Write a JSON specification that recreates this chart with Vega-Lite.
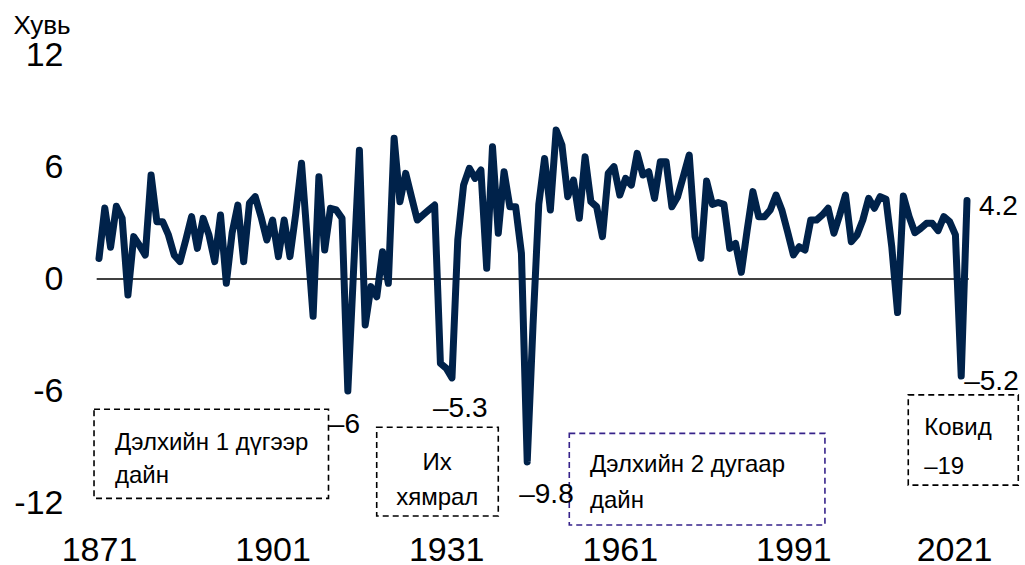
{
  "$schema": "https://vega.github.io/schema/vega-lite/v6.json",
  "width": 868,
  "height": 448,
  "autosize": {"type": "none"},
  "padding": {"left": 99, "top": 55, "right": 58, "bottom": 62},
  "background": "white",
  "config": {"view": {"stroke": null}},
  "datasets": {
    "gdp": [
      {"year": 1871, "value": 1.1}, {"year": 1872, "value": 3.8}, {"year": 1873, "value": 1.7}, {"year": 1874, "value": 3.9},
      {"year": 1875, "value": 3.25}, {"year": 1876, "value": -0.86}, {"year": 1877, "value": 2.27}, {"year": 1878, "value": 1.8},
      {"year": 1879, "value": 1.28}, {"year": 1880, "value": 5.57}, {"year": 1881, "value": 3.07}, {"year": 1882, "value": 3.07},
      {"year": 1883, "value": 2.36}, {"year": 1884, "value": 1.28}, {"year": 1885, "value": 0.93}, {"year": 1886, "value": 2.1},
      {"year": 1887, "value": 3.34}, {"year": 1888, "value": 1.64}, {"year": 1889, "value": 3.25}, {"year": 1890, "value": 2.36},
      {"year": 1891, "value": 0.93}, {"year": 1892, "value": 3.43}, {"year": 1893, "value": -0.23}, {"year": 1894, "value": 2.46},
      {"year": 1895, "value": 3.96}, {"year": 1896, "value": 0.93}, {"year": 1897, "value": 4.07}, {"year": 1898, "value": 4.41},
      {"year": 1899, "value": 3.34}, {"year": 1900, "value": 2.09}, {"year": 1901, "value": 3.16}, {"year": 1902, "value": 1.2},
      {"year": 1903, "value": 3.16}, {"year": 1904, "value": 1.2}, {"year": 1905, "value": 3.5}, {"year": 1906, "value": 6.2},
      {"year": 1907, "value": 2.1}, {"year": 1908, "value": -2.0}, {"year": 1909, "value": 5.48}, {"year": 1910, "value": 1.55},
      {"year": 1911, "value": 3.79}, {"year": 1912, "value": 3.7}, {"year": 1913, "value": 3.25}, {"year": 1914, "value": -6.0},
      {"year": 1915, "value": 0.5}, {"year": 1916, "value": 6.9}, {"year": 1917, "value": -2.46}, {"year": 1918, "value": -0.41},
      {"year": 1919, "value": -0.95}, {"year": 1920, "value": 1.46}, {"year": 1921, "value": -0.23}, {"year": 1922, "value": 7.54},
      {"year": 1923, "value": 4.14}, {"year": 1924, "value": 5.66}, {"year": 1925, "value": 4.4}, {"year": 1926, "value": 3.16},
      {"year": 1927, "value": 3.43}, {"year": 1928, "value": 3.7}, {"year": 1929, "value": 3.96}, {"year": 1930, "value": -4.52},
      {"year": 1931, "value": -4.78}, {"year": 1932, "value": -5.3}, {"year": 1933, "value": 2.09}, {"year": 1934, "value": 5.03},
      {"year": 1935, "value": 5.93}, {"year": 1936, "value": 5.39}, {"year": 1937, "value": 5.84}, {"year": 1938, "value": 0.57},
      {"year": 1939, "value": 7.09}, {"year": 1940, "value": 2.45}, {"year": 1941, "value": 5.75}, {"year": 1942, "value": 3.87},
      {"year": 1943, "value": 3.87}, {"year": 1944, "value": 1.38}, {"year": 1945, "value": -9.8}, {"year": 1946, "value": -2.5},
      {"year": 1947, "value": 4.0}, {"year": 1948, "value": 6.46}, {"year": 1949, "value": 3.7}, {"year": 1950, "value": 7.98},
      {"year": 1951, "value": 7.18}, {"year": 1952, "value": 4.41}, {"year": 1953, "value": 5.3}, {"year": 1954, "value": 3.25},
      {"year": 1955, "value": 6.55}, {"year": 1956, "value": 4.14}, {"year": 1957, "value": 3.87}, {"year": 1958, "value": 2.27},
      {"year": 1959, "value": 5.66}, {"year": 1960, "value": 6.02}, {"year": 1961, "value": 4.5}, {"year": 1962, "value": 5.39},
      {"year": 1963, "value": 5.03}, {"year": 1964, "value": 6.73}, {"year": 1965, "value": 5.57}, {"year": 1966, "value": 5.75},
      {"year": 1967, "value": 4.32}, {"year": 1968, "value": 6.28}, {"year": 1969, "value": 6.28}, {"year": 1970, "value": 3.87},
      {"year": 1971, "value": 4.41}, {"year": 1972, "value": 5.52}, {"year": 1973, "value": 6.64}, {"year": 1974, "value": 2.27},
      {"year": 1975, "value": 1.11}, {"year": 1976, "value": 5.25}, {"year": 1977, "value": 4.0}, {"year": 1978, "value": 4.1},
      {"year": 1979, "value": 4.0}, {"year": 1980, "value": 1.64}, {"year": 1981, "value": 1.91}, {"year": 1982, "value": 0.36},
      {"year": 1983, "value": 2.6}, {"year": 1984, "value": 4.68}, {"year": 1985, "value": 3.34}, {"year": 1986, "value": 3.34},
      {"year": 1987, "value": 3.7}, {"year": 1988, "value": 4.5}, {"year": 1989, "value": 3.7}, {"year": 1990, "value": 2.53},
      {"year": 1991, "value": 1.29}, {"year": 1992, "value": 1.73}, {"year": 1993, "value": 1.55}, {"year": 1994, "value": 3.16},
      {"year": 1995, "value": 3.16}, {"year": 1996, "value": 3.43}, {"year": 1997, "value": 3.79}, {"year": 1998, "value": 2.45},
      {"year": 1999, "value": 3.43}, {"year": 2000, "value": 4.5}, {"year": 2001, "value": 2.0}, {"year": 2002, "value": 2.36},
      {"year": 2003, "value": 3.16}, {"year": 2004, "value": 4.32}, {"year": 2005, "value": 3.79}, {"year": 2006, "value": 4.41},
      {"year": 2007, "value": 4.27}, {"year": 2008, "value": 1.73}, {"year": 2009, "value": -1.8}, {"year": 2010, "value": 4.45},
      {"year": 2011, "value": 3.34}, {"year": 2012, "value": 2.48}, {"year": 2013, "value": 2.71}, {"year": 2014, "value": 2.98},
      {"year": 2015, "value": 2.98}, {"year": 2016, "value": 2.59}, {"year": 2017, "value": 3.34}, {"year": 2018, "value": 3.07},
      {"year": 2019, "value": 2.36}, {"year": 2020, "value": -5.2}, {"year": 2021, "value": 4.2}
    ]
  },
  "data": {"name": "gdp"},
  "encoding": {
    "x": {
      "field": "year", "type": "quantitative",
      "scale": {"domain": [1871, 2021], "nice": false, "zero": false},
      "axis": {
        "title": null, "values": [1871, 1901, 1931, 1961, 1991, 2021], "format": "d",
        "domain": false, "ticks": false, "grid": false, "labelFlush": false,
        "labelFont": "Liberation Sans", "labelFontSize": 34, "labelColor": "black",
        "labelBaseline": "alphabetic", "labelPadding": 57,
        "labelOffset": {"condition": {"test": "datum.value === 2021", "value": -13}, "value": 0}
      }
    },
    "y": {
      "field": "value", "type": "quantitative",
      "scale": {"domain": [-12, 12], "nice": false},
      "axis": {
        "title": "Хувь", "titleAngle": 0, "titleAlign": "left", "titleBaseline": "alphabetic",
        "titleX": -86, "titleY": -22, "titleFont": "Liberation Sans", "titleFontSize": 26,
        "titleFontWeight": "normal", "titleColor": "black",
        "values": [-12, -6, 0, 6, 12], "labelExpr": "'' + datum.value",
        "domain": false, "ticks": false, "grid": false, "labelFlush": false,
        "labelFont": "Liberation Sans", "labelFontSize": 34, "labelColor": "black",
        "labelAlign": "right", "labelBaseline": "middle", "labelPadding": 36
      }
    }
  },
  "layer": [
    {
      "transform": [{"filter": "datum.year === 1871"}],
      "mark": {"type": "rule", "color": "black", "strokeWidth": 1.5},
      "encoding": {"x": {"datum": 1870.6}, "x2": {"datum": 2021.3}, "y": {"datum": 0}}
    },
    {
      "mark": {"type": "line", "color": "#00224A", "strokeWidth": 7, "strokeJoin": "round", "strokeCap": "round"}
    },
    {
      "transform": [{"filter": "datum.year === 1871"}],
      "mark": {"type": "rect", "fillOpacity": 0, "fill": "white", "stroke": "black", "strokeWidth": 1.6, "strokeDash": [6, 4]},
      "encoding": {"x": {"datum": 1870.14}, "x2": {"datum": 1910.66}, "y": {"datum": -6.98}, "y2": {"datum": -11.75}}
    },
    {
      "transform": [{"filter": "datum.year === 1871"}],
      "mark": {"type": "rect", "fillOpacity": 0, "fill": "white", "stroke": "black", "strokeWidth": 1.6, "strokeDash": [6, 4]},
      "encoding": {"x": {"datum": 1918.99}, "x2": {"datum": 1940.0}, "y": {"datum": -7.94}, "y2": {"datum": -12.7}}
    },
    {
      "transform": [{"filter": "datum.year === 1871"}],
      "mark": {"type": "rect", "fillOpacity": 0, "fill": "white", "stroke": "#36228A", "strokeWidth": 1.6, "strokeDash": [6, 4]},
      "encoding": {"x": {"datum": 1952.27}, "x2": {"datum": 1996.45}, "y": {"datum": -8.27}, "y2": {"datum": -13.18}}
    },
    {
      "transform": [{"filter": "datum.year === 1871"}],
      "mark": {"type": "rect", "fillOpacity": 0, "fill": "white", "stroke": "black", "strokeWidth": 1.6, "strokeDash": [6, 4]},
      "encoding": {"x": {"datum": 2010.85}, "x2": {"datum": 2029.86}, "y": {"datum": -6.21}, "y2": {"datum": -11.04}}
    },
    {
      "transform": [{"filter": "datum.year === 1871"}],
      "mark": {"type": "text", "text": ["Дэлхийн 1 дүгээр", "дайн"], "lineHeight": 33, "align": "left", "baseline": "alphabetic", "font": "Liberation Sans", "fontSize": 24, "color": "black"},
      "encoding": {"x": {"datum": 1873.76}, "y": {"datum": -9.16}}
    },
    {
      "transform": [{"filter": "datum.year === 1871"}],
      "mark": {"type": "text", "text": ["Их", "хямрал"], "lineHeight": 35, "align": "center", "baseline": "alphabetic", "font": "Liberation Sans", "fontSize": 24, "color": "black"},
      "encoding": {"x": {"datum": 1929.45}, "y": {"datum": -10.23}}
    },
    {
      "transform": [{"filter": "datum.year === 1871"}],
      "mark": {"type": "text", "text": ["Дэлхийн 2 дугаар", "дайн"], "lineHeight": 36, "align": "left", "baseline": "alphabetic", "font": "Liberation Sans", "fontSize": 24, "color": "black"},
      "encoding": {"x": {"datum": 1955.85}, "y": {"datum": -10.32}}
    },
    {
      "transform": [{"filter": "datum.year === 1871"}],
      "mark": {"type": "text", "text": ["Ковид", "–19"], "lineHeight": 39, "align": "left", "baseline": "alphabetic", "font": "Liberation Sans", "fontSize": 24, "color": "black"},
      "encoding": {"x": {"datum": 2013.6}, "y": {"datum": -8.36}}
    },
    {
      "transform": [{"filter": "datum.year === 1914"}],
      "mark": {"type": "text", "text": "–6", "align": "left", "baseline": "alphabetic", "dx": -19, "dy": 42, "font": "Liberation Sans", "fontSize": 28, "color": "black"}
    },
    {
      "transform": [{"filter": "datum.year === 1932"}],
      "mark": {"type": "text", "text": "–5.3", "align": "left", "baseline": "alphabetic", "dx": -19, "dy": 39, "font": "Liberation Sans", "fontSize": 28, "color": "black"}
    },
    {
      "transform": [{"filter": "datum.year === 1945"}],
      "mark": {"type": "text", "text": "–9.8", "align": "left", "baseline": "alphabetic", "dx": -8, "dy": 41, "font": "Liberation Sans", "fontSize": 28, "color": "black"}
    },
    {
      "transform": [{"filter": "datum.year === 2021"}],
      "mark": {"type": "text", "text": "4.2", "align": "left", "baseline": "alphabetic", "dx": 12, "dy": 14, "font": "Liberation Sans", "fontSize": 28, "color": "black"}
    },
    {
      "transform": [{"filter": "datum.year === 2020"}],
      "mark": {"type": "text", "text": "–5.2", "align": "left", "baseline": "alphabetic", "dx": 3, "dy": 14, "font": "Liberation Sans", "fontSize": 28, "color": "black"}
    }
  ]
}
